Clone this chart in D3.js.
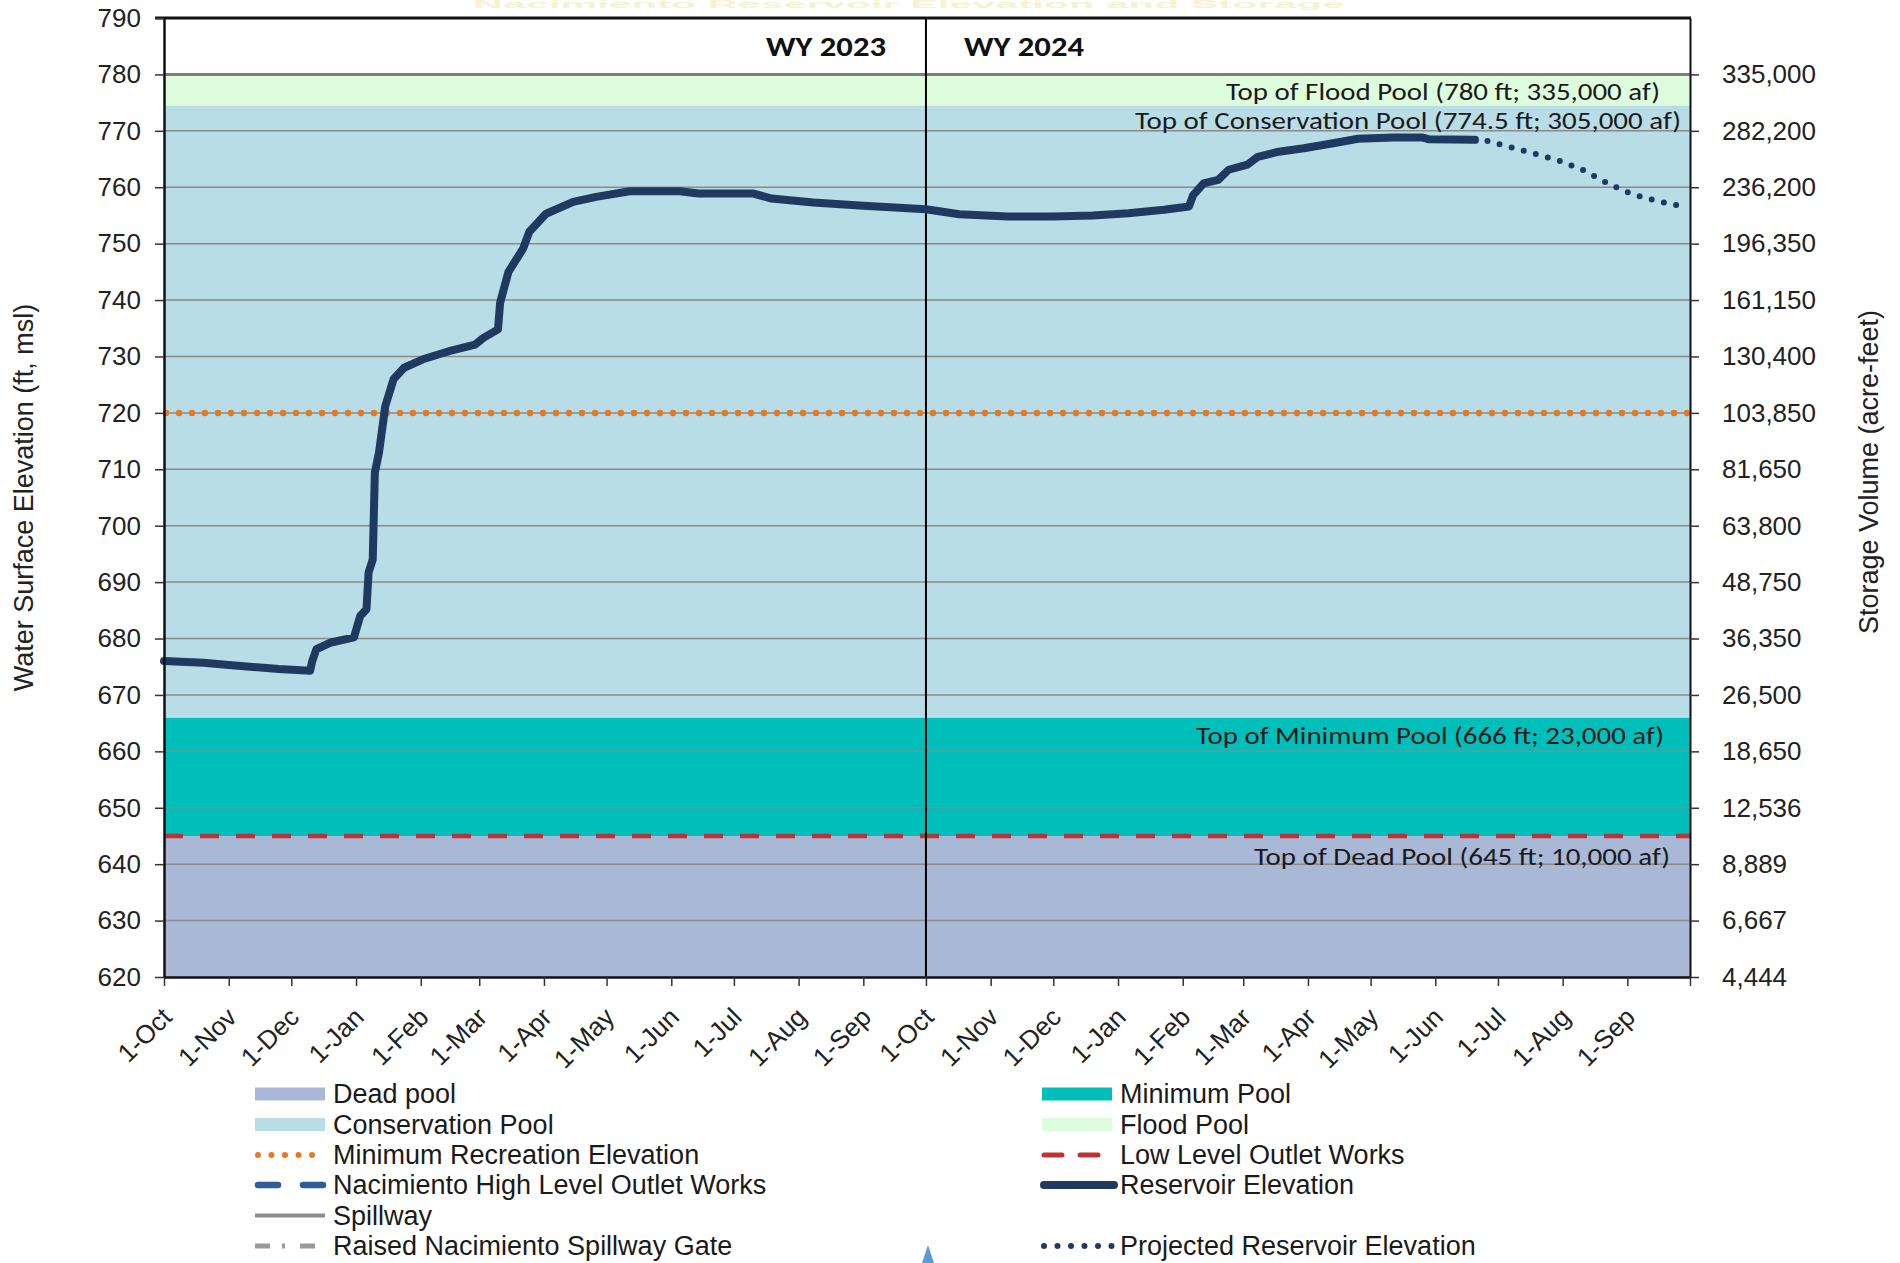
<!DOCTYPE html>
<html>
<head>
<meta charset="utf-8">
<script src="https://cdn.jsdelivr.net/npm/d3@7"></script>
<style>
  body { margin: 0; background: #fff; }
  svg { display: block; font-family: 'Liberation Sans', Arial, sans-serif; }
</style>
</head>
<body>
<svg id="chart"></svg>
<script>
const parse = d3.timeParse('%Y-%m-%d');

// observed reservoir elevation (ft)
const observedDates = ['2022-10-01','2022-10-20','2022-11-01','2022-11-25','2022-12-10','2022-12-11','2022-12-13','2022-12-20','2022-12-31',
  '2023-01-03','2023-01-06','2023-01-07','2023-01-09','2023-01-10','2023-01-12','2023-01-15','2023-01-19','2023-01-24','2023-02-02',
  '2023-02-16','2023-02-27','2023-03-03','2023-03-10','2023-03-11','2023-03-15','2023-03-22','2023-03-25','2023-04-02','2023-04-15',
  '2023-04-26','2023-05-12','2023-06-05','2023-06-14','2023-07-10','2023-07-19','2023-08-08','2023-09-01','2023-10-01','2023-10-17',
  '2023-11-09','2023-12-01','2023-12-20','2024-01-06','2024-01-23','2024-02-04','2024-02-06','2024-02-11','2024-02-18','2024-02-23',
  '2024-03-03','2024-03-08','2024-03-18','2024-03-30','2024-04-13','2024-04-25','2024-05-12','2024-05-26','2024-05-29','2024-06-20'];
const observedElev = [676.0, 675.7, 675.3, 674.6, 674.3, 676.0, 678.1, 679.3, 680.2,
  684.0, 685.2, 691.7, 694.0, 709.4, 713.0, 721.2, 726.0, 728.0, 729.5,
  731.1, 732.1, 733.3, 734.8, 739.5, 745.0, 749.1, 752.1, 755.3, 757.4,
  758.3, 759.3, 759.3, 758.9, 758.9, 758.0, 757.3, 756.7, 756.1, 755.2,
  754.8, 754.8, 755.0, 755.4, 756.0, 756.6, 758.6, 760.7, 761.3, 763.1,
  764.0, 765.4, 766.3, 766.9, 767.8, 768.6, 768.8, 768.8, 768.5, 768.4];

// projected elevation
const projectedDates = ['2024-06-20','2024-06-26','2024-07-09','2024-07-21','2024-08-01','2024-08-11','2024-08-23','2024-09-03','2024-09-15','2024-09-26'];
const projectedElev = [768.4, 768.2, 766.9, 765.7, 764.5, 763.0, 760.6, 758.8, 757.6, 756.7];

// axes
const elevTicks = d3.range(620, 791, 10);
const storageTicks = d3.range(620, 781, 10);
const storageLabels = ['4,444','6,667','8,889','12,536','18,650','26,500','36,350','48,750','63,800','81,650',
  '103,850','130,400','161,150','196,350','236,200','282,200','335,000'];

// pools
const poolNames = ['Dead pool', 'Minimum Pool', 'Conservation Pool', 'Flood Pool'];
const poolBottoms = [620, 645, 666, 774.5];
const poolTops = [645, 666, 774.5, 780];
const poolLabels = ['Top of Dead Pool (645 ft; 10,000 af)', 'Top of Minimum Pool (666 ft; 23,000 af)',
  'Top of Conservation Pool (774.5 ft; 305,000 af)', 'Top of Flood Pool (780 ft; 335,000 af)'];

const spillwayElev = 780;
const minRecElev = 720;
const lowOutletElev = 645;
const waterYears = ['WY 2023', 'WY 2024'];
const wySplit = '2023-10-01';

const colors = {
  'Dead pool': '#a8b8d6',
  'Minimum Pool': '#00bfba',
  'Conservation Pool': '#b8dde7',
  'Flood Pool': '#ddfddd',
  line: '#1f3a60',
  orange: '#e8781f',
  red: '#bd3232',
  grid: '#8a8a8a',
  blue: '#2e5d97'
};

const W = 1900, H = 1263;
const svg = d3.select('#chart').attr('width', W).attr('height', H);

const x = d3.scaleTime()
  .domain([parse('2022-10-01'), parse('2024-10-01')])
  .range([164, 1690]);
const y = d3.scaleLinear().domain([620, 790]).range([977, 18]);
const x0 = x.range()[0], x1 = x.range()[1];

// faint title strip at the very top
svg.append('text')
  .attr('x', 909).attr('y', 8)
  .attr('text-anchor', 'middle')
  .attr('font-size', 10).attr('font-weight', 'bold')
  .attr('fill', '#f7f2d0')
  .attr('textLength', 872).attr('lengthAdjust', 'spacingAndGlyphs')
  .text('Nacimiento Reservoir Elevation and Storage');

// pool bands
svg.append('g').selectAll('rect')
  .data(poolNames)
  .join('rect')
    .attr('x', x0)
    .attr('width', x1 - x0)
    .attr('y', (d, i) => y(poolTops[i]))
    .attr('height', (d, i) => y(poolBottoms[i]) - y(poolTops[i]))
    .attr('fill', d => colors[d]);

// gridlines
svg.append('g').selectAll('line')
  .data(elevTicks.filter(v => v > 620 && v < 790 && v !== spillwayElev))
  .join('line')
    .attr('x1', x0).attr('x2', x1)
    .attr('y1', d => y(d)).attr('y2', d => y(d))
    .attr('stroke', colors.grid).attr('stroke-width', 1.5);

// spillway
svg.append('line')
  .attr('x1', x0).attr('x2', x1)
  .attr('y1', y(spillwayElev)).attr('y2', y(spillwayElev))
  .attr('stroke', '#7f7f7f').attr('stroke-width', 3);

// minimum recreation elevation
svg.append('line')
  .attr('x1', x0 + 2).attr('x2', x1)
  .attr('y1', y(minRecElev)).attr('y2', y(minRecElev))
  .attr('stroke', colors.orange).attr('stroke-width', 6.5)
  .attr('stroke-linecap', 'round').attr('stroke-dasharray', '0 13');

// low level outlet works
svg.append('line')
  .attr('x1', x0).attr('x2', x1)
  .attr('y1', y(lowOutletElev)).attr('y2', y(lowOutletElev))
  .attr('stroke', colors.red).attr('stroke-width', 4.5)
  .attr('stroke-dasharray', '19 17');

// pool labels
const labelOffsets = [-3.7, -3.2, -2.6, -3.1];
const labelRight = [1670, 1664, 1681, 1660];
const labelWidths = [416, 468, 546, 434];
svg.append('g').selectAll('text')
  .data(poolLabels)
  .join('text')
    .attr('x', (d, i) => labelRight[i])
    .attr('y', (d, i) => y(poolTops[i] + labelOffsets[i]))
    .attr('dy', '0.35em')
    .attr('text-anchor', 'end')
    .attr('font-family', "Carlito, Calibri, 'Open Sans', sans-serif")
    .attr('font-size', 24)
    .attr('fill', '#1a1a1a')
    .attr('textLength', (d, i) => labelWidths[i])
    .attr('lengthAdjust', 'spacingAndGlyphs')
    .text(d => d);

// water year divider
const xs = x(parse(wySplit));
svg.append('line')
  .attr('x1', xs).attr('x2', xs)
  .attr('y1', y(790)).attr('y2', y(620))
  .attr('stroke', '#000').attr('stroke-width', 2);

svg.append('g').selectAll('text')
  .data(waterYears)
  .join('text')
    .attr('x', (d, i) => i === 0 ? xs - 40 : xs + 38)
    .attr('y', y(785))
    .attr('dy', '0.35em')
    .attr('text-anchor', (d, i) => i === 0 ? 'end' : 'start')
    .attr('font-family', "Carlito, Calibri, 'Open Sans', sans-serif")
    .attr('font-weight', 'bold')
    .attr('font-size', 28)
    .attr('fill', '#111')
    .attr('textLength', 120).attr('lengthAdjust', 'spacingAndGlyphs')
    .text(d => d);

// reservoir lines
const observed = observedDates.map((d, i) => ({ date: parse(d), v: observedElev[i] }));
const projected = projectedDates.map((d, i) => ({ date: parse(d), v: projectedElev[i] }));
const line = d3.line().x(d => x(d.date)).y(d => y(d.v));

svg.append('path')
  .datum(observed)
  .attr('d', line)
  .attr('fill', 'none')
  .attr('stroke', colors.line).attr('stroke-width', 8)
  .attr('stroke-linejoin', 'round').attr('stroke-linecap', 'round');

svg.append('path')
  .datum(projected.slice(1))
  .attr('d', line)
  .attr('fill', 'none')
  .attr('stroke', colors.line).attr('stroke-width', 6)
  .attr('stroke-linecap', 'round').attr('stroke-dasharray', '0 12.5');

// frame
svg.append('line')
  .attr('x1', x0 - 9).attr('x2', x1 + 1)
  .attr('y1', y(790)).attr('y2', y(790))
  .attr('stroke', '#111').attr('stroke-width', 3);

// left axis
const yAxis = svg.append('g')
  .attr('transform', `translate(${x0},0)`)
  .call(d3.axisLeft(y).tickValues(elevTicks).tickSize(9).tickPadding(14).tickSizeOuter(0));
yAxis.select('.domain').attr('stroke', '#111').attr('stroke-width', 2.5);
yAxis.selectAll('.tick line').attr('stroke', '#333').attr('stroke-width', 1.5);
yAxis.selectAll('.tick text').attr('font-size', 26).attr('fill', '#222')
  .attr('font-family', "'Liberation Sans', Arial, sans-serif");

// right axis
const y2Axis = svg.append('g')
  .attr('transform', `translate(${x1},0)`)
  .call(d3.axisRight(y).tickValues(storageTicks).tickSize(9).tickPadding(23).tickSizeOuter(0)
    .tickFormat((d, i) => storageLabels[i]));
y2Axis.select('.domain').attr('stroke', '#111').attr('stroke-width', 2);
y2Axis.selectAll('.tick line').attr('stroke', '#333').attr('stroke-width', 1.5);
y2Axis.selectAll('.tick text').attr('font-size', 26).attr('fill', '#222')
  .attr('font-family', "'Liberation Sans', Arial, sans-serif");

// bottom axis
const monthTicks = d3.timeMonth.range(parse('2022-10-01'), parse('2024-10-02'));
const lastTick = monthTicks[monthTicks.length - 1];
const xAxis = svg.append('g')
  .attr('transform', `translate(0,${y(620)})`)
  .call(d3.axisBottom(x).tickValues(monthTicks).tickSize(9).tickSizeOuter(0)
    .tickFormat(d => +d === +lastTick ? '' : d3.timeFormat('%-d-%b')(d)));
xAxis.select('.domain').attr('stroke', '#111').attr('stroke-width', 2.5);
xAxis.selectAll('.tick line').attr('stroke', '#333').attr('stroke-width', 1.5);
xAxis.selectAll('.tick text')
  .attr('font-size', 26).attr('fill', '#222')
  .attr('font-family', "'Liberation Sans', Arial, sans-serif")
  .attr('text-anchor', 'end')
  .attr('x', 0).attr('y', 0).attr('dy', '0.7em')
  .attr('transform', 'translate(-4,29) rotate(-45)');

// axis titles
svg.append('text')
  .attr('transform', `translate(33,${(y(790) + y(620)) / 2}) rotate(-90)`)
  .attr('text-anchor', 'middle')
  .attr('font-size', 27).attr('fill', '#222')
  .text('Water Surface Elevation (ft, msl)');

svg.append('text')
  .attr('transform', `translate(1878,472) rotate(-90)`)
  .attr('text-anchor', 'middle')
  .attr('font-size', 27).attr('fill', '#222')
  .text('Storage Volume (acre-feet)');

// legend
const legendLeft = ['Dead pool', 'Conservation Pool', 'Minimum Recreation Elevation',
  'Nacimiento High Level Outlet Works', 'Spillway', 'Raised Nacimiento Spillway Gate'];
const legendRight = ['Minimum Pool', 'Flood Pool', 'Low Level Outlet Works', 'Reservoir Elevation', '', 'Projected Reservoir Elevation'];
const legendStyle = {
  'Dead pool': { type: 'rect', fill: colors['Dead pool'] },
  'Conservation Pool': { type: 'rect', fill: colors['Conservation Pool'] },
  'Minimum Pool': { type: 'rect', fill: colors['Minimum Pool'] },
  'Flood Pool': { type: 'rect', fill: colors['Flood Pool'] },
  'Minimum Recreation Elevation': { type: 'line', stroke: colors.orange, width: 6, dash: '0 13.5', cap: 'round', x1: 3, x2: 70 },
  'Nacimiento High Level Outlet Works': { type: 'line', stroke: colors.blue, width: 6.5, dash: '20 25', cap: 'round', x1: 3, x2: 70 },
  'Spillway': { type: 'line', stroke: '#8c8c8c', width: 4, dash: null, cap: 'butt', x1: 0, x2: 70 },
  'Raised Nacimiento Spillway Gate': { type: 'line', stroke: '#9a9a9a', width: 5, dash: '15 12 3 15 15', cap: 'butt', x1: 0, x2: 70 },
  'Low Level Outlet Works': { type: 'line', stroke: colors.red, width: 5, dash: '18 18', cap: 'round', x1: 2, x2: 60 },
  'Reservoir Elevation': { type: 'line', stroke: colors.line, width: 8, dash: null, cap: 'round', x1: 2, x2: 72 },
  'Projected Reservoir Elevation': { type: 'line', stroke: colors.line, width: 6, dash: '0 13.5', cap: 'round', x1: 2, x2: 70 }
};
const legendRows = [1094, 1124.5, 1155, 1185, 1215.5, 1246];

function drawLegend(items, left) {
  const g = svg.append('g').attr('transform', `translate(${left},0)`);
  items.forEach((label, i) => {
    if (!label) return;
    const st = legendStyle[label];
    const cy = legendRows[i];
    if (st.type === 'rect') {
      g.append('rect').attr('x', 0).attr('y', cy - 6.5).attr('width', 70).attr('height', 13).attr('fill', st.fill);
    } else {
      g.append('line')
        .attr('x1', st.x1).attr('x2', st.x2).attr('y1', cy).attr('y2', cy)
        .attr('stroke', st.stroke).attr('stroke-width', st.width)
        .attr('stroke-linecap', st.cap)
        .attr('stroke-dasharray', st.dash);
    }
    g.append('text')
      .attr('x', 78).attr('y', cy).attr('dy', '0.35em')
      .attr('font-size', 27).attr('fill', '#1a1a1a')
      .text(label);
  });
}
drawLegend(legendLeft, 255);
drawLegend(legendRight, 1042);

// small marker at bottom
svg.append('path')
  .attr('d', d3.line()([[928, 1245], [922, 1263], [934, 1263]]) + 'Z')
  .attr('fill', '#5b9bd5');
</script>
</body>
</html>
